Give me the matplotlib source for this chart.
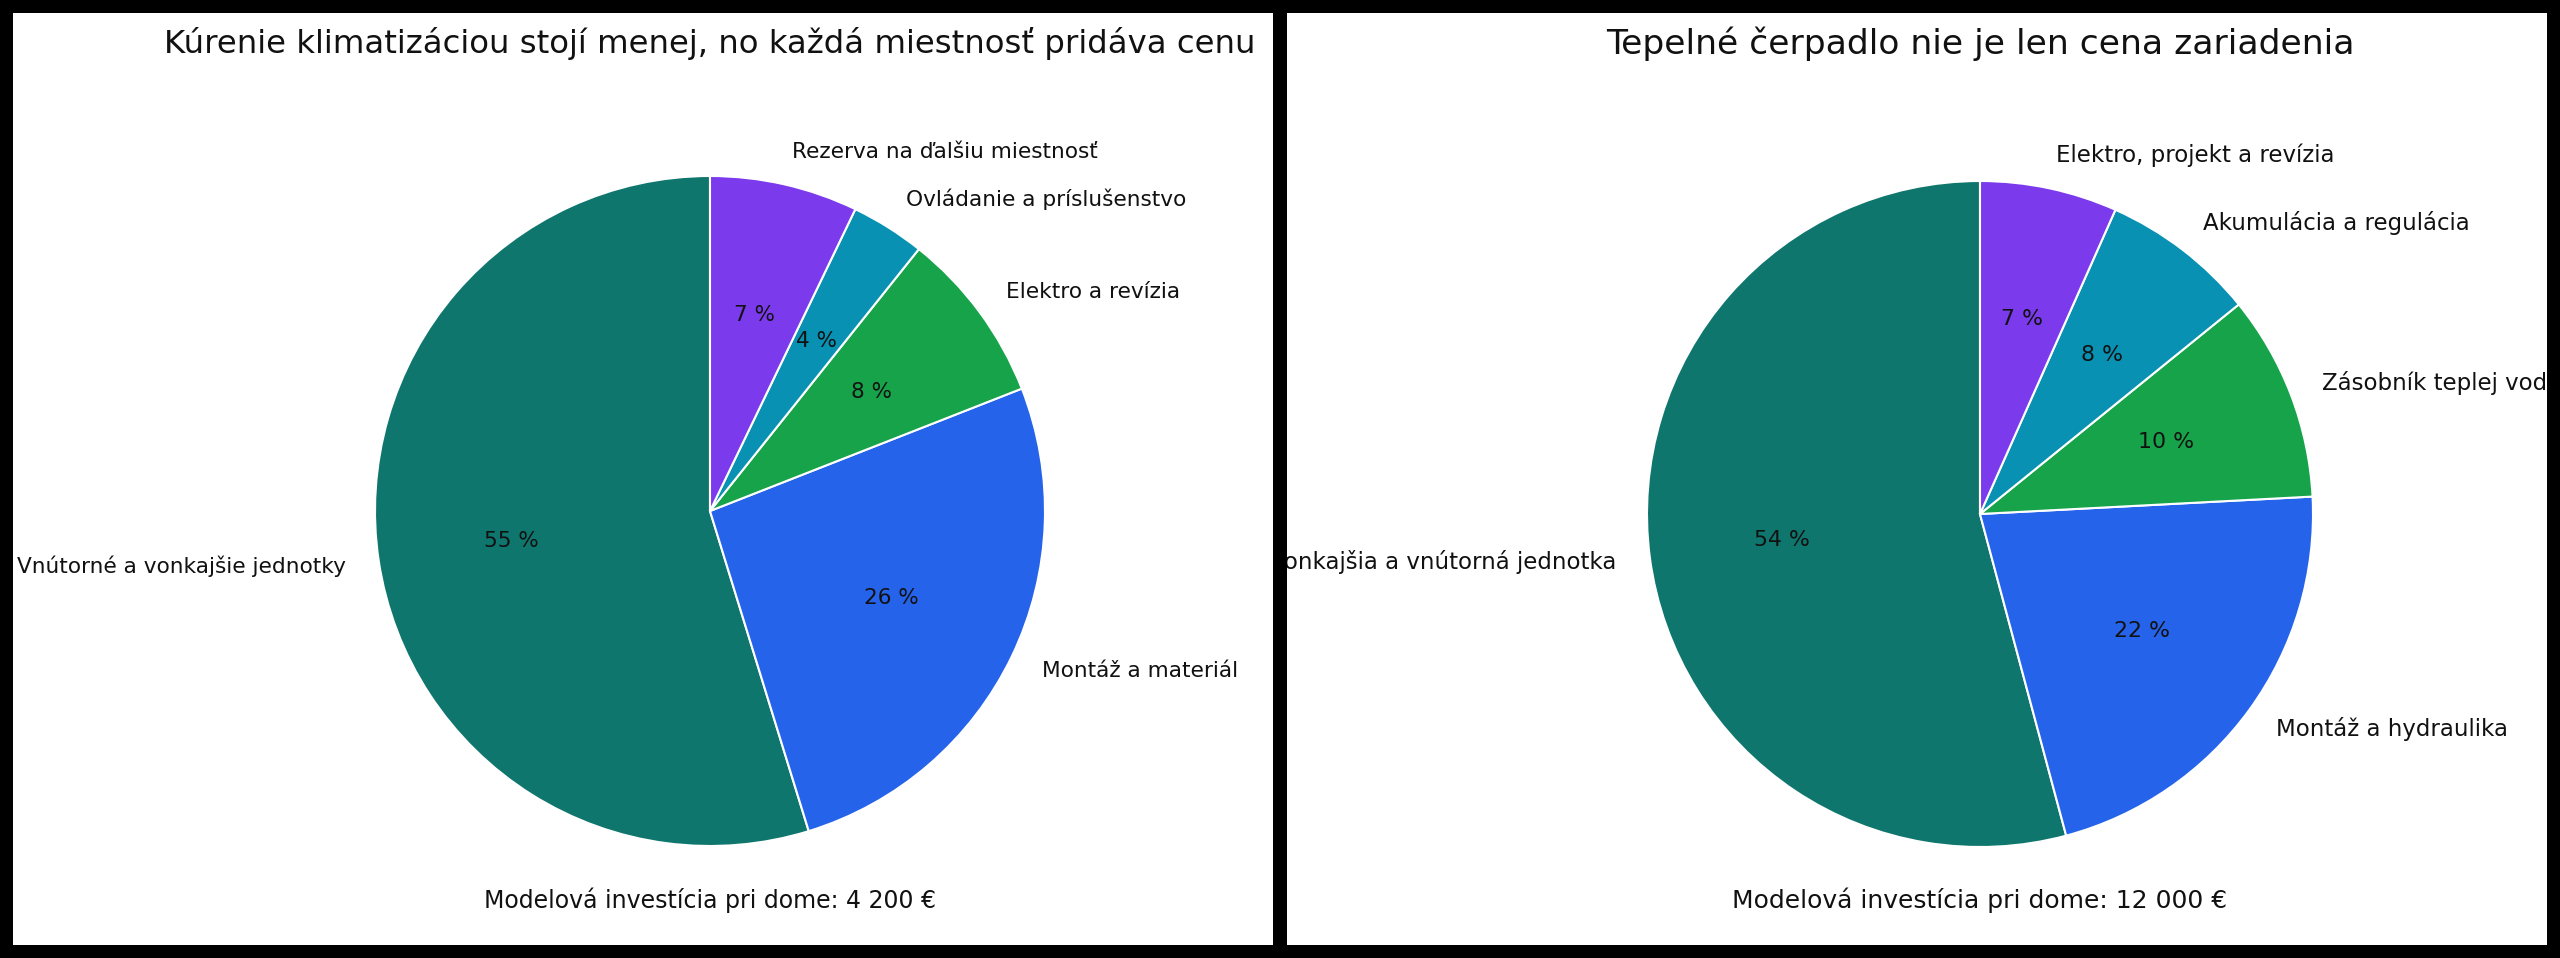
import numpy as np
import matplotlib.pyplot as plt
from matplotlib.patches import Rectangle

# data ----------
left_labels = ['Vnútorné a vonkajšie jednotky', 'Montáž a materiál', 'Elektro a revízia',
               'Ovládanie a príslušenstvo', 'Rezerva na ďalšiu miestnosť']
left_values = [2300, 1100, 350, 150, 300]
left_title = 'Kúrenie klimatizáciou stojí menej, no každá miestnosť pridáva cenu'
left_note = 'Modelová investícia pri dome: 4 200 €'

right_labels = ['Vonkajšia a vnútorná jednotka', 'Montáž a hydraulika', 'Zásobník teplej vody',
                'Akumulácia a regulácia', 'Elektro, projekt a revízia']
right_values = [6500, 2600, 1200, 900, 800]
right_title = 'Tepelné čerpadlo nie je len cena zariadenia'
right_note = 'Modelová investícia pri dome: 12 000 €'

colors = ['#0f766e', '#2563eb', '#16a34a', '#0891b2', '#7c3aed']

W, H = 2560, 958
fig = plt.figure(figsize=(W / 100, H / 100), dpi=100, facecolor='black')

# panel rectangles in pixels (left, bottom, width, height), pie centre, radius, font sizes
panels = [(13, 13, 1260, 932), (1287, 13, 1260, 932)]
centres = [(710, 958 - 511), (1980, 958 - 514)]
radii = [335.0, 333.0]
sizes = [(23.3, 15.6, 15.5, 17.0), (24.8, 16.5, 15.8, 18.0)]  # title, label, pct, note

for (px, py, pw, ph), (cx, cy), R, (fs_t, fs_l, fs_p, fs_n), labels, values, title, note in zip(
        panels, centres, radii, sizes, [left_labels, right_labels], [left_values, right_values],
        [left_title, right_title], [left_note, right_note]):
    fig.add_artist(Rectangle((px / W, py / H), pw / W, ph / H, transform=fig.transFigure,
                             facecolor='white', edgecolor='none', zorder=-1))
    ax = fig.add_axes([px / W, py / H, pw / W, ph / H])
    wedges, texts, autotexts = ax.pie(values, labels=labels, colors=colors, startangle=90,
                                      counterclock=True, autopct='%.0f %%',
                                      wedgeprops=dict(edgecolor='white', linewidth=1.5),
                                      textprops=dict(fontsize=fs_l, color='#111111'))
    for t in autotexts:
        t.set_fontsize(fs_p)
    ax.set_aspect('auto')
    ax.set_xlim((px - cx) / R, (px + pw - cx) / R)
    ax.set_ylim((py - cy) / R, (py + ph - cy) / R)
    t1 = ax.text(0, (H - 44 - cy) / R, title, ha='center', va='center', fontsize=fs_t, color='#111111')
    t2 = ax.text(0, (H - 900 - cy) / R, note, ha='center', va='center', fontsize=fs_n, color='#111111')
    for t in texts + autotexts + [t1, t2]:
        t.set_clip_on(True)
        t.set_clip_box(ax.bbox)

fig.savefig('out.png', dpi=100, facecolor='black')
